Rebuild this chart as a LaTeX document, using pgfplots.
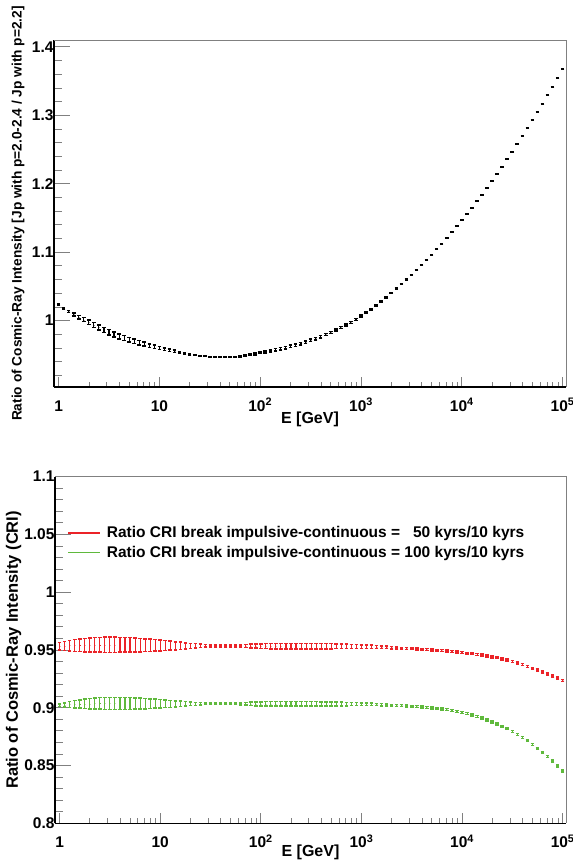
\documentclass[border=0pt]{standalone}
\usepackage{fontspec}
\setmainfont{Liberation Sans}
\usepackage{pgfplots}
\usepackage{pgfplotstable}
\pgfplotsset{compat=1.18}

\definecolor{cRed}{RGB}{235,35,40}
\definecolor{cGreen}{RGB}{95,185,60}
\newcommand\tfont{\fontsize{15.5}{18}\selectfont\bfseries}

% E [GeV], top ratio + err, red ratio + err, green ratio + err
\pgfplotstableread{
E ty te ry re gy ge
1 1.0235 0.0005 0.9533 0.0033 0.9022 0.0010
1.122 1.0180 0.0010 0.9535 0.0040 0.9025 0.0018
1.259 1.0136 0.0015 0.9537 0.0046 0.9028 0.0025
1.413 1.0088 0.0020 0.9539 0.0051 0.9030 0.0031
1.585 1.0049 0.0025 0.9541 0.0055 0.9032 0.0036
1.778 1.0013 0.0029 0.9542 0.0058 0.9034 0.0040
1.995 0.9975 0.0032 0.9543 0.0061 0.9035 0.0044
2.239 0.9937 0.0034 0.9544 0.0063 0.9036 0.0047
2.512 0.9899 0.0036 0.9545 0.0064 0.9037 0.0050
2.818 0.9864 0.0037 0.9545 0.0065 0.9037 0.0052
3.162 0.9830 0.0037 0.9545 0.0065 0.9037 0.0053
3.548 0.9800 0.0037 0.9545 0.0065 0.9037 0.0053
3.981 0.9771 0.0036 0.9545 0.0064 0.9037 0.0053
4.467 0.9746 0.0035 0.9545 0.0063 0.9037 0.0052
5.012 0.9722 0.0034 0.9544 0.0062 0.9037 0.0051
5.623 0.9699 0.0033 0.9543 0.0060 0.9036 0.0049
6.310 0.9676 0.0031 0.9542 0.0058 0.9036 0.0047
7.079 0.9655 0.0029 0.9541 0.0056 0.9036 0.0045
7.943 0.9635 0.0027 0.9540 0.0053 0.9035 0.0042
8.913 0.9616 0.0025 0.9539 0.0050 0.9035 0.0039
10 0.9599 0.0023 0.9538 0.0047 0.9035 0.0036
11.22 0.9582 0.0021 0.9537 0.0043 0.9034 0.0033
12.59 0.9567 0.0018 0.9537 0.0039 0.9034 0.0030
14.13 0.9552 0.0016 0.9536 0.0035 0.9034 0.0026
15.85 0.9538 0.0013 0.9536 0.0031 0.9034 0.0023
17.78 0.9524 0.0011 0.9535 0.0027 0.9034 0.0020
19.95 0.9510 0.0009 0.9535 0.0023 0.9034 0.0016
22.39 0.9497 0.0007 0.9535 0.0019 0.9034 0.0013
25.12 0.9486 0.0005 0.9535 0.0015 0.9034 0.0010
28.18 0.9477 0.0004 0.9535 0.0011 0.9034 0.0008
31.62 0.9470 0.0003 0.9535 0.0008 0.9034 0.0008
35.48 0.9465 0.0003 0.9535 0.0008 0.9034 0.0008
39.81 0.9463 0.0003 0.9535 0.0008 0.9034 0.0008
44.67 0.9463 0.0003 0.9535 0.0008 0.9034 0.0008
50.12 0.9465 0.0004 0.9535 0.0008 0.9034 0.0008
56.23 0.9469 0.0005 0.9535 0.0008 0.9034 0.0008
63.10 0.9476 0.0007 0.9534 0.0010 0.9034 0.0009
70.79 0.9486 0.0009 0.9534 0.0013 0.9034 0.0011
79.43 0.9498 0.0011 0.9534 0.0016 0.9034 0.0014
89.13 0.9513 0.0013 0.9534 0.0018 0.9033 0.0016
100 0.9530 0.0014 0.9533 0.0020 0.9033 0.0018
112.2 0.9543 0.0015 0.9533 0.0022 0.9033 0.0019
125.9 0.9557 0.0016 0.9533 0.0023 0.9033 0.0020
141.3 0.9572 0.0017 0.9533 0.0024 0.9033 0.0020
158.5 0.9588 0.0018 0.9533 0.0025 0.9033 0.0020
177.8 0.9605 0.0018 0.9533 0.0025 0.9033 0.0020
199.5 0.9623 0.0018 0.9533 0.0025 0.9033 0.0020
223.9 0.9643 0.0018 0.9533 0.0025 0.9033 0.0020
251.2 0.9664 0.0018 0.9533 0.0025 0.9033 0.0020
281.8 0.9687 0.0018 0.9533 0.0025 0.9033 0.0020
316.2 0.9711 0.0018 0.9533 0.0024 0.9033 0.0019
354.8 0.9737 0.0017 0.9532 0.0024 0.9033 0.0019
398.1 0.9765 0.0017 0.9532 0.0023 0.9033 0.0018
446.7 0.9795 0.0016 0.9532 0.0023 0.9033 0.0018
501.2 0.9827 0.0016 0.9532 0.0022 0.9032 0.0017
562.3 0.9861 0.0015 0.9532 0.0021 0.9032 0.0017
631.0 0.9897 0.0015 0.9532 0.0020 0.9032 0.0016
707.9 0.9935 0.0014 0.9531 0.0019 0.9032 0.0015
794.3 0.9975 0.0014 0.9531 0.0018 0.9032 0.0014
891.3 1.0017 0.0014 0.9530 0.0017 0.9031 0.0013
1000 1.0065 0.0014 0.9529 0.0016 0.9031 0.0012
1122 1.0115 0.0013 0.9528 0.0015 0.9030 0.0011
1259 1.0167 0.0012 0.9527 0.0014 0.9029 0.0010
1413 1.0222 0.0011 0.9526 0.0013 0.9028 0.0009
1585 1.0280 0.0010 0.9524 0.0012 0.9026 0.0009
1778 1.0341 0.0009 0.9522 0.0011 0.9024 0.0009
1995 1.0404 0.0008 0.9520 0.0010 0.9022 0.0008
2239 1.0469 0.0007 0.9518 0.0009 0.9020 0.0008
2512 1.0533 0.0006 0.9515 0.0008 0.9018 0.0008
2818 1.0600 0.0005 0.9512 0.0008 0.9016 0.0008
3162 1.0668 0.0004 0.9510 0.0008 0.9013 0.0008
3548 1.0739 0.0004 0.9508 0.0008 0.9010 0.0008
3981 1.0811 0.0003 0.9506 0.0008 0.9007 0.0008
4467 1.0886 0.0003 0.9503 0.0008 0.9003 0.0008
5012 1.0963 0.0003 0.9500 0.0008 0.8999 0.0008
5623 1.1041 0.0003 0.9497 0.0008 0.8995 0.0008
6310 1.1122 0.0003 0.9494 0.0008 0.8990 0.0008
7079 1.1205 0.0003 0.9490 0.0008 0.8984 0.0008
7943 1.1290 0.0003 0.9486 0.0008 0.8977 0.0008
8913 1.1377 0.0003 0.9482 0.0008 0.8969 0.0008
10000 1.1466 0.0003 0.9477 0.0008 0.8960 0.0008
11220 1.1557 0.0003 0.9472 0.0008 0.8950 0.0008
12590 1.1650 0.0003 0.9467 0.0008 0.8938 0.0008
14130 1.1745 0.0003 0.9461 0.0008 0.8925 0.0008
15850 1.1842 0.0003 0.9455 0.0008 0.8911 0.0008
17780 1.1941 0.0003 0.9448 0.0008 0.8895 0.0008
19950 1.2042 0.0003 0.9440 0.0008 0.8878 0.0008
22390 1.2146 0.0003 0.9432 0.0008 0.8860 0.0008
25120 1.2251 0.0003 0.9422 0.0008 0.8840 0.0008
28180 1.2358 0.0003 0.9412 0.0008 0.8818 0.0008
31620 1.2468 0.0003 0.9400 0.0008 0.8795 0.0008
35480 1.2579 0.0003 0.9387 0.0008 0.8770 0.0008
39810 1.2693 0.0003 0.9373 0.0008 0.8743 0.0008
44670 1.2808 0.0003 0.9358 0.0008 0.8714 0.0008
50120 1.2926 0.0003 0.9342 0.0008 0.8683 0.0008
56230 1.3046 0.0003 0.9326 0.0008 0.8650 0.0008
63100 1.3168 0.0003 0.9310 0.0008 0.8615 0.0008
70790 1.3291 0.0003 0.9293 0.0008 0.8578 0.0008
79430 1.3417 0.0003 0.9275 0.0008 0.8538 0.0008
89130 1.3545 0.0003 0.9256 0.0008 0.8496 0.0008
100000 1.3676 0.0003 0.9236 0.0008 0.8452 0.0008
}\data

\begin{document}
\begin{tikzpicture}
\useasboundingbox (0,0) rectangle (573pt,-860pt);

% top panel
\begin{axis}[
  scale only axis,
  at={(54pt,-387pt)}, anchor=south west,
  width=512pt, height=347pt,
  xmode=log,
  xmin=0.9, xmax=1.08e5,
  ymin=0.903, ymax=1.41,
  axis x line*=bottom,
  axis y line*=left,
  axis line style={line width=1.5pt},
  tick align=inside,
  major tick length=16pt, minor tick length=8pt,
  xtick style={/pgfplots/major tick length=10pt, /pgfplots/minor tick length=5pt},
  xtick={1,10,100,1000,10000,100000},
  xticklabels={1,10,10\textsuperscript{2},10\textsuperscript{3},10\textsuperscript{4},10\textsuperscript{5}},
  minor xtick={2,3,4,5,6,7,8,9,20,30,40,50,60,70,80,90,200,300,400,500,600,700,800,900,
    2000,3000,4000,5000,6000,7000,8000,9000,20000,30000,40000,50000,60000,70000,80000,90000},
  ytick={1,1.1,1.2,1.3,1.4},
  yticklabels={1,1.1,1.2,1.3,1.4},
  minor ytick={0.92,0.94,0.96,0.98,1.02,1.04,1.06,1.08,1.12,1.14,1.16,1.18,1.22,1.24,1.26,1.28,1.32,1.34,1.36,1.38,1.40},
  tick style={line width=0.8pt},
  tick label style={font=\tfont},
  xticklabel style={anchor=base, yshift=-24pt},
  yticklabel style={xshift=3pt},
  xlabel={E [GeV]},
  every axis x label/.style={at={(axis description cs:0.5,0)}, yshift=-32pt, anchor=center,
    font=\fontsize{16}{18}\selectfont\bfseries},
  ylabel={Ratio of Cosmic-Ray Intensity [Jp with p=2.0-2.4 / Jp with p=2.2]},
  every axis y label/.style={at={(axis description cs:-0.0703,0.5)}, rotate=90, anchor=center,
    font=\fontsize{13.7}{16}\selectfont\bfseries},
  clip=false,
]
\draw[gray, line width=0.8pt] (rel axis cs:0,1) -- (rel axis cs:1,1) -- (rel axis cs:1,0);
\addplot[black, only marks, mark=-, mark size=0.01pt,
  error bars/y dir=both, error bars/y explicit,
  error bars/error mark=|, error bars/error mark options={mark size=1.8pt, line width=1.5pt},
  error bars/error bar style={line width=1.1pt}]
  table[x=E, y=ty, y error=te] {\data};
\end{axis}

% bottom panel
\begin{axis}[
  scale only axis,
  at={(55pt,-823.3pt)}, anchor=south west,
  width=511pt, height=346.7pt,
  xmode=log,
  xmin=0.9, xmax=1.08e5,
  ymin=0.8, ymax=1.1,
  axis x line*=bottom,
  axis y line*=left,
  axis line style={line width=1.5pt},
  tick align=inside,
  major tick length=16pt, minor tick length=8pt,
  xtick style={/pgfplots/major tick length=10pt, /pgfplots/minor tick length=5pt},
  xtick={1,10,100,1000,10000,100000},
  xticklabels={1,10,10\textsuperscript{2},10\textsuperscript{3},10\textsuperscript{4},10\textsuperscript{5}},
  minor xtick={2,3,4,5,6,7,8,9,20,30,40,50,60,70,80,90,200,300,400,500,600,700,800,900,
    2000,3000,4000,5000,6000,7000,8000,9000,20000,30000,40000,50000,60000,70000,80000,90000},
  ytick={0.8,0.85,0.9,0.95,1,1.05,1.1},
  yticklabels={0.8,0.85,0.9,0.95,1,1.05,1.1},
  minor ytick={0.81,0.82,0.83,0.84,0.86,0.87,0.88,0.89,0.91,0.92,0.93,0.94,0.96,0.97,0.98,0.99,1.01,1.02,1.03,1.04,1.06,1.07,1.08,1.09},
  tick style={line width=0.8pt},
  tick label style={font=\tfont},
  xticklabel style={anchor=base, yshift=-24pt},
  yticklabel style={xshift=3pt},
  xlabel={E [GeV]},
  every axis x label/.style={at={(axis description cs:0.5,0)}, yshift=-29pt, anchor=center,
    font=\fontsize{16}{18}\selectfont\bfseries},
  ylabel={Ratio of Cosmic-Ray Intensity (CRI)},
  every axis y label/.style={at={(axis description cs:-0.0812,0.5)}, rotate=90, anchor=center,
    font=\fontsize{16.5}{18}\selectfont\bfseries},
  legend style={at={(rel axis cs:0.0245,0.862)}, anchor=north west, draw=none, fill=none,
    inner sep=0pt, font=\tfont, nodes={inner sep=2pt}, column sep=4pt, row sep=3pt},
  legend cell align=left,
  legend image code/.code={\draw[#1] (0pt,0pt) -- (32pt,0pt);},
  clip=false,
]
\draw[gray, line width=0.8pt] (rel axis cs:0,1) -- (rel axis cs:1,1) -- (rel axis cs:1,0);
\addplot[forget plot, cRed, only marks, mark=-, mark size=0.01pt,
  error bars/y dir=both, error bars/y explicit,
  error bars/error mark=|, error bars/error mark options={mark size=1.8pt, line width=1.5pt},
  error bars/error bar style={line width=1.1pt}]
  table[x=E, y=ry, y error=re] {\data};
\addplot[forget plot, cGreen, only marks, mark=-, mark size=0.01pt,
  error bars/y dir=both, error bars/y explicit,
  error bars/error mark=|, error bars/error mark options={mark size=1.8pt, line width=1.5pt},
  error bars/error bar style={line width=1.1pt}]
  table[x=E, y=gy, y error=ge] {\data};
\addlegendimage{draw=cRed, line width=1.2pt}
\addlegendentry{Ratio CRI break impulsive-continuous = \phantom{1}50 kyrs/10 kyrs}
\addlegendimage{draw=cGreen, line width=1.2pt}
\addlegendentry{Ratio CRI break impulsive-continuous = 100 kyrs/10 kyrs}
\end{axis}
\end{tikzpicture}
\end{document}
